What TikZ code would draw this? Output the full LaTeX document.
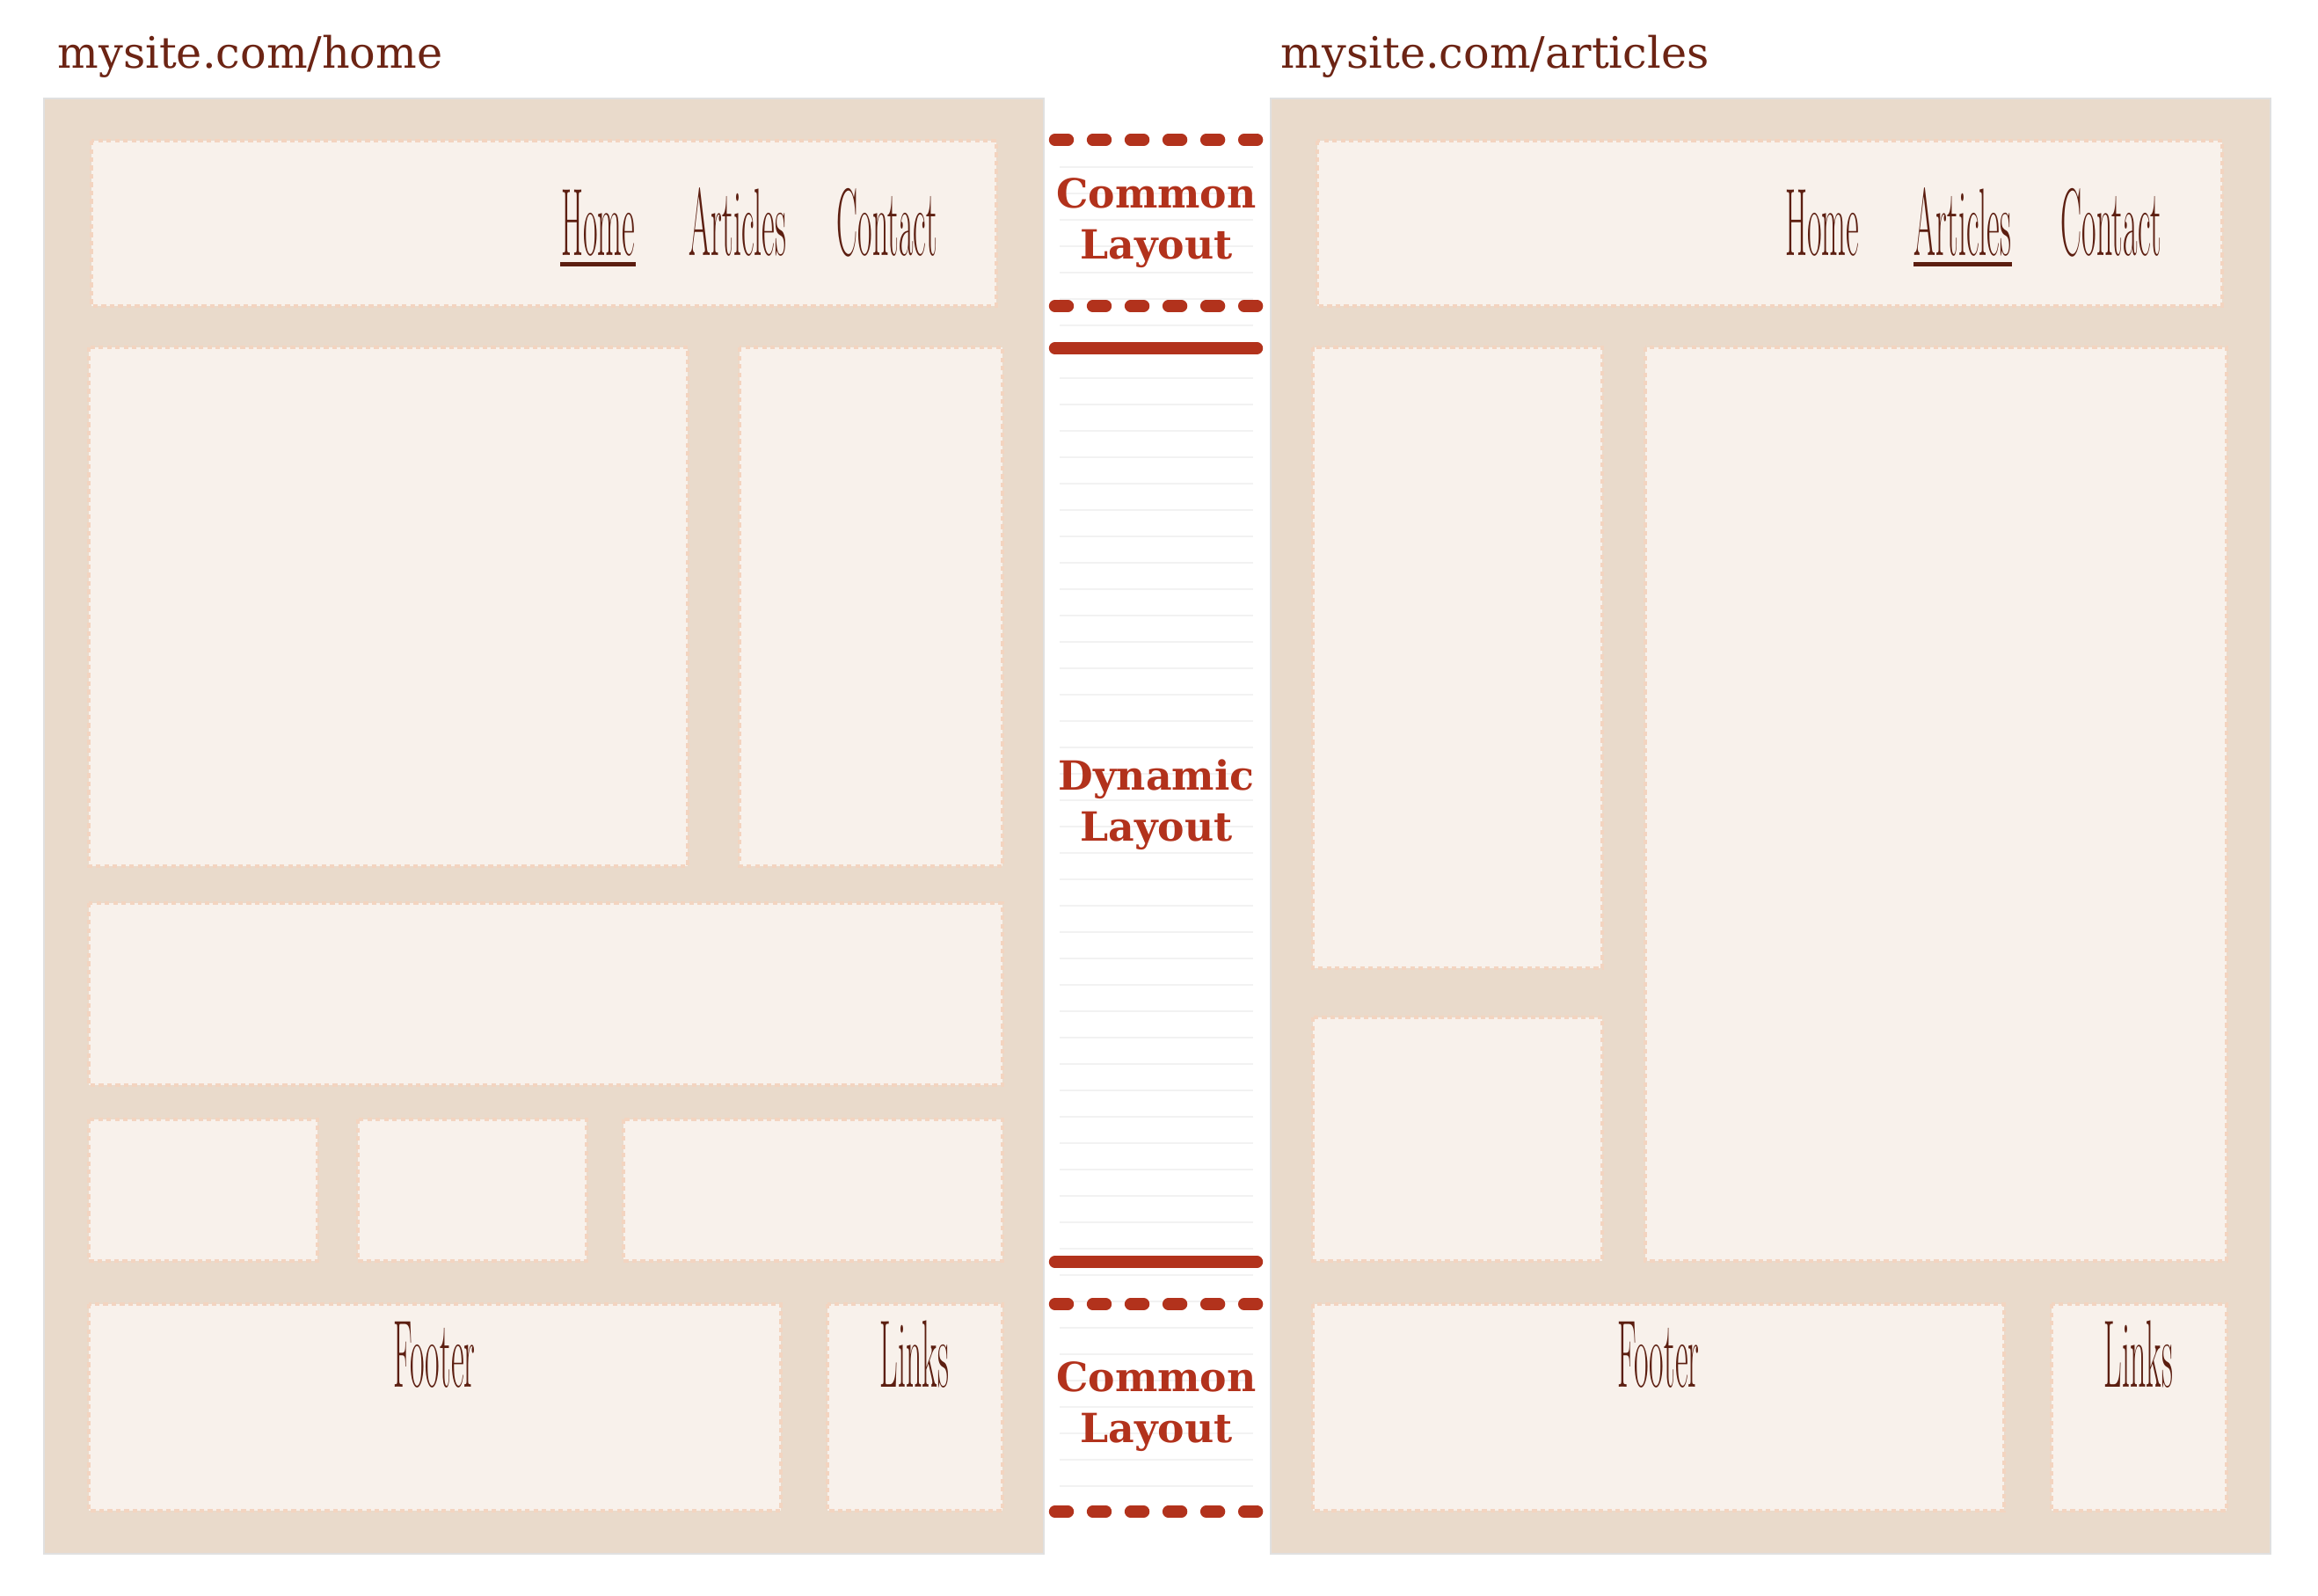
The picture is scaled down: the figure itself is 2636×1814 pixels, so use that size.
\documentclass[tikz,border=0pt]{standalone}
\usepackage{fontspec}
\usepackage{graphicx}
\newfontfamily\slabfont{DejaVu Serif}
\definecolor{paneltan}{RGB}{233,218,203}
\definecolor{cardfill}{RGB}{248,241,235}
\definecolor{cardedge}{RGB}{243,212,192}
\definecolor{navbrown}{RGB}{92,30,16}
\definecolor{urlbrown}{RGB}{108,36,20}
\definecolor{accent}{RGB}{178,50,28}
\newcommand{\navword}[1]{\scalebox{0.33}[1]{\fontsize{31}{32}\selectfont #1}}

\begin{document}
\begin{tikzpicture}[x=0.01cm, y=-0.01cm,
    page/.style={fill=paneltan, draw=black!12, line width=0.6pt},
    card/.style={fill=cardfill, draw=cardedge, line width=1.2pt, dash pattern=on 1.5pt off 1.2pt},
    nav/.style={text=navbrown, inner sep=0pt, anchor=base},
    url/.style={font=\slabfont\fontsize{14}{16}\selectfont, text=urlbrown, inner sep=0pt, anchor=base west},
    tag/.style={font=\slabfont\bfseries\fontsize{13}{16.5}\selectfont, text=accent, align=center, inner sep=0pt},
    sepdash/.style={draw=accent, line width=3.8pt, line cap=round, dash pattern=on 0.15cm off 0.28cm},
    sepline/.style={draw=accent, line width=3.8pt, line cap=round},
    ruled/.style={draw=black!5, line width=0.8pt},
    ulink/.style={draw=navbrown, line width=1.2pt}]

\useasboundingbox (0,0) rectangle (2636,1814);

% addresses
\node [url] (urlhome) at (65,77) {mysite.com/home};
\node [url] (urlart) at (1456,77) {mysite.com/articles};

% the two pages
\draw [page] (50,112) rectangle (1187,1767);
\draw [page] (1445,112) rectangle (2582,1767);

% home page blocks
\draw [card] (104,160) rectangle (1133,348);
\draw [card] (101,395) rectangle (782,985);
\draw [card] (841,395) rectangle (1140,985);
\draw [card] (101,1027) rectangle (1140,1234);
\draw [card] (101,1273) rectangle (361,1434);
\draw [card] (407,1273) rectangle (667,1434);
\draw [card] (709,1273) rectangle (1140,1434);
\draw [card] (101,1483) rectangle (888,1718);
\draw [card] (941,1483) rectangle (1140,1718);

% articles page blocks
\draw [card] (1498,160) rectangle (2527,348);
\draw [card] (1493,395) rectangle (1822,1101);
\draw [card] (1493,1157) rectangle (1822,1434);
\draw [card] (1871,395) rectangle (2532,1434);
\draw [card] (1493,1483) rectangle (2279,1718);
\draw [card] (2333,1483) rectangle (2532,1718);

% menus
\node [nav] (homeL) at (680,290) {\navword{Home}};
\node [nav] (artL) at (839,290) {\navword{Articles}};
\node [nav] (conL) at (1009,290) {\navword{Contact}};
\draw [ulink] ([yshift=-3pt]homeL.base west) -- ([yshift=-3pt]homeL.base east);

\node [nav] (homeR) at (2072,290) {\navword{Home}};
\node [nav] (artR) at (2232,290) {\navword{Articles}};
\node [nav] (conR) at (2401,290) {\navword{Contact}};
\draw [ulink] ([yshift=-3pt]artR.base west) -- ([yshift=-3pt]artR.base east);

\node [nav] (footL) at (494,1577) {\navword{Footer}};
\node [nav] (linksL) at (1040,1577) {\navword{Links}};
\node [nav] (footR) at (1886,1577) {\navword{Footer}};
\node [nav] (linksR) at (2432,1577) {\navword{Links}};

% middle strip
\foreach \y in {190,220,...,1700}
  \draw [ruled] (1205,\y) -- (1425,\y);

\foreach \y in {159,348,1483,1719}
  \draw [sepdash] (1199.5,\y) -- (1430,\y);
\draw [sepline] (1199.5,396) -- (1429.5,396);
\draw [sepline] (1199.5,1435) -- (1429.5,1435);

\node [tag] (commontop) at (1315,254) {Common\\Layout};
\node [tag] (dynamic) at (1315,915) {Dynamic\\Layout};
\node [tag] (commonbot) at (1315,1600) {Common\\Layout};

\end{tikzpicture}
\end{document}
